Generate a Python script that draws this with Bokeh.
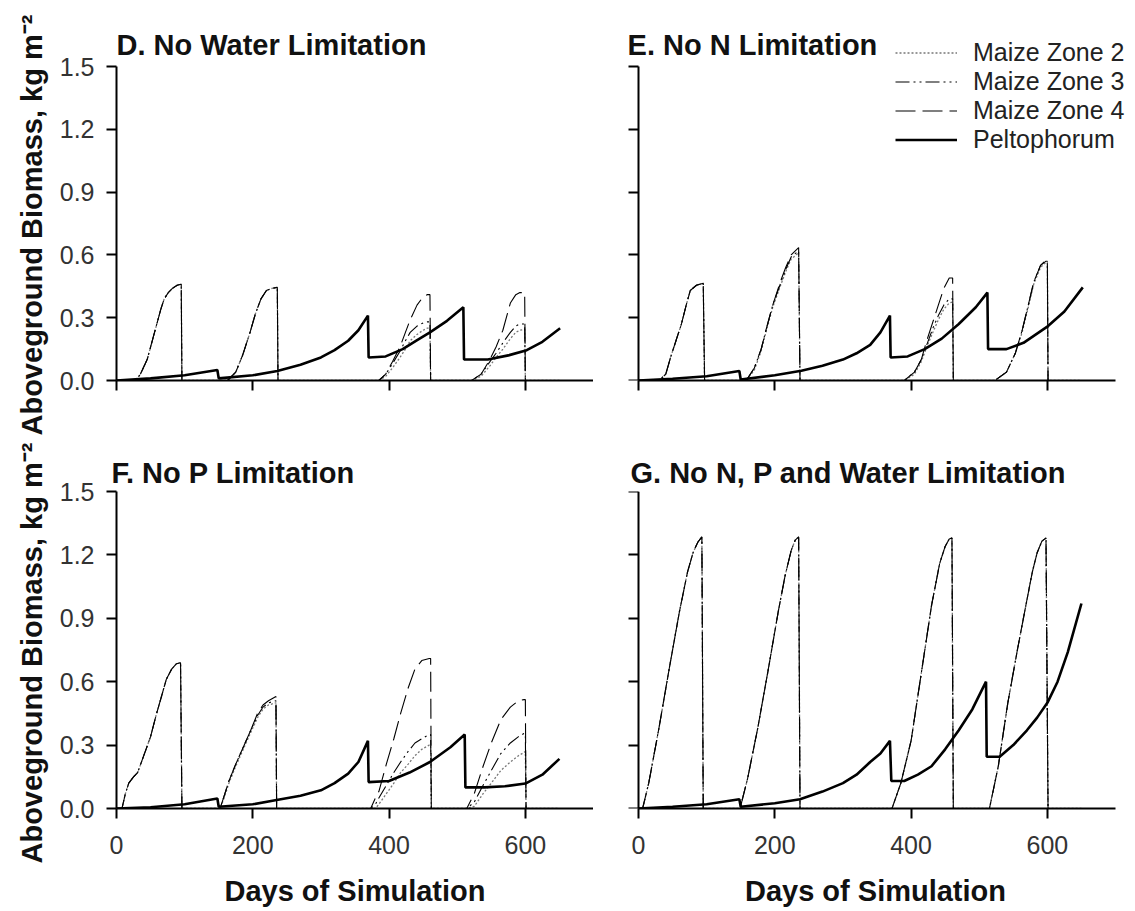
from bokeh.plotting import figure
from bokeh.layouts import column, row
from bokeh.models import (Range1d, FixedTicker, PrintfTickFormatter, Title,
                          Legend, LegendItem, Label)
from bokeh.embed import file_html
from bokeh.resources import INLINE

FONT = "Liberation Sans"

# ---------------- data ----------------
x_ticks = [0, 200, 400, 600]
y_ticks = [0.0, 0.3, 0.6, 0.9, 1.2, 1.5]
legend_labels = ["Maize Zone 2", "Maize Zone 3", "Maize Zone 4", "Peltophorum"]
titles = ["D. No Water Limitation", "E. No N Limitation",
          "F. No P Limitation", "G. No N, P and Water Limitation"]
x_label = "Days of Simulation"
y_label = "Aboveground Biomass, kg m\u207b\u00b2"

# Panel D
D_days = [0, 28, 35, 45, 50, 55, 60, 65, 70, 76, 82, 89, 95, 96,
          163, 175, 185, 196, 204, 212, 220, 228, 236, 237,
          385, 395, 405, 416, 424, 431, 441, 450, 456, 460, 461,
          521, 535, 548, 557, 567, 578, 586, 592, 599, 600, 650]
D_zone4 = [0, 0, 0.03, 0.10, 0.16, 0.22, 0.28, 0.34, 0.39, 0.42, 0.44, 0.455, 0.46, 0,
           0, 0.04, 0.12, 0.23, 0.32, 0.39, 0.43, 0.44, 0.445, 0,
           0, 0.03, 0.09, 0.16, 0.23, 0.29, 0.36, 0.40, 0.41, 0.41, 0,
           0, 0.03, 0.10, 0.16, 0.24, 0.37, 0.41, 0.42, 0.42, 0, 0]
D_zone3 = [0, 0, 0.03, 0.10, 0.16, 0.22, 0.28, 0.34, 0.39, 0.42, 0.44, 0.455, 0.46, 0,
           0, 0.04, 0.12, 0.23, 0.32, 0.39, 0.43, 0.44, 0.445, 0,
           0, 0.03, 0.08, 0.14, 0.19, 0.23, 0.26, 0.275, 0.28, 0.28, 0,
           0, 0.03, 0.09, 0.13, 0.18, 0.23, 0.26, 0.27, 0.27, 0, 0]
D_zone2 = [0, 0, 0.03, 0.10, 0.16, 0.22, 0.28, 0.34, 0.39, 0.42, 0.44, 0.455, 0.46, 0,
           0, 0.04, 0.12, 0.23, 0.32, 0.39, 0.43, 0.44, 0.445, 0,
           0, 0.02, 0.06, 0.11, 0.15, 0.19, 0.22, 0.24, 0.25, 0.25, 0,
           0, 0.02, 0.07, 0.11, 0.15, 0.20, 0.23, 0.24, 0.245, 0, 0]
D_pelt_days = [0, 50, 100, 148, 150, 200, 236, 270, 300, 320, 340, 355, 369, 370,
               395, 420, 440, 460, 485, 509, 510, 545, 575, 602, 625, 651]
D_pelt = [0, 0.01, 0.025, 0.05, 0.01, 0.025, 0.045, 0.075, 0.11, 0.145, 0.19, 0.24, 0.31, 0.11,
          0.115, 0.15, 0.19, 0.23, 0.285, 0.35, 0.10, 0.10, 0.12, 0.145, 0.185, 0.25]

# Panel E
E_days = [0, 30, 40, 47, 55, 63, 70, 76, 85, 95, 97,
          158, 170, 180, 187, 197, 208, 216, 224, 235, 237,
          390, 405, 415, 423, 432, 440, 448, 456, 461, 462,
          523, 540, 553, 563, 572, 580, 590, 598, 600, 601, 650]
E_zone4 = [0, 0, 0.03, 0.11, 0.19, 0.27, 0.36, 0.43, 0.455, 0.465, 0,
           0, 0.06, 0.15, 0.24, 0.36, 0.47, 0.54, 0.60, 0.635, 0,
           0, 0.04, 0.10, 0.19, 0.28, 0.36, 0.44, 0.49, 0.49, 0,
           0, 0.04, 0.13, 0.24, 0.36, 0.47, 0.55, 0.575, 0.575, 0, 0]
E_zone3 = [0, 0, 0.03, 0.11, 0.19, 0.27, 0.36, 0.43, 0.455, 0.465, 0,
           0, 0.06, 0.15, 0.24, 0.36, 0.46, 0.53, 0.59, 0.62, 0,
           0, 0.04, 0.10, 0.17, 0.25, 0.31, 0.36, 0.39, 0.39, 0,
           0, 0.04, 0.13, 0.24, 0.36, 0.47, 0.55, 0.57, 0.57, 0, 0]
E_zone2 = [0, 0, 0.03, 0.11, 0.19, 0.27, 0.36, 0.43, 0.455, 0.465, 0,
           0, 0.05, 0.14, 0.23, 0.35, 0.45, 0.52, 0.58, 0.61, 0,
           0, 0.03, 0.09, 0.16, 0.23, 0.29, 0.34, 0.37, 0.375, 0,
           0, 0.04, 0.13, 0.23, 0.35, 0.46, 0.54, 0.565, 0.565, 0, 0]
E_pelt_days = [0, 50, 100, 148, 150, 200, 239, 270, 300, 320, 340, 355, 369, 370,
               395, 420, 445, 470, 495, 512, 513, 540, 565, 601, 625, 652]
E_pelt = [0, 0.008, 0.02, 0.045, 0.005, 0.025, 0.047, 0.07, 0.10, 0.13, 0.17, 0.23, 0.31, 0.11,
          0.115, 0.15, 0.20, 0.27, 0.35, 0.42, 0.15, 0.15, 0.18, 0.26, 0.33, 0.445]

# Panel F
F_days = [0, 8, 13, 18, 25, 31, 40, 50, 58, 66, 73, 81, 88, 94, 96,
          152, 158, 165, 175, 186, 197, 207, 215, 223, 234, 235,
          373, 380, 385, 396, 407, 417, 428, 438, 448, 459, 461, 462,
          514, 525, 538, 550, 564, 578, 590, 598, 600, 601, 650]
F_zone4 = [0, 0, 0.07, 0.12, 0.15, 0.17, 0.25, 0.34, 0.44, 0.53, 0.61, 0.66, 0.685, 0.69, 0,
           0, 0.06, 0.13, 0.21, 0.29, 0.37, 0.45, 0.49, 0.51, 0.53, 0,
           0, 0.05, 0.08, 0.21, 0.33, 0.45, 0.57, 0.66, 0.70, 0.71, 0.71, 0,
           0, 0.07, 0.20, 0.31, 0.42, 0.48, 0.51, 0.515, 0.515, 0, 0]
F_zone3 = [0, 0, 0.07, 0.12, 0.15, 0.17, 0.25, 0.34, 0.44, 0.53, 0.61, 0.66, 0.685, 0.69, 0,
           0, 0.06, 0.13, 0.21, 0.29, 0.37, 0.44, 0.48, 0.50, 0.51, 0,
           0, 0.02, 0.05, 0.11, 0.17, 0.22, 0.27, 0.31, 0.33, 0.35, 0.35, 0,
           0, 0.03, 0.11, 0.18, 0.26, 0.31, 0.34, 0.355, 0.355, 0, 0]
F_zone2 = [0, 0, 0.07, 0.12, 0.15, 0.17, 0.25, 0.34, 0.44, 0.53, 0.61, 0.66, 0.685, 0.69, 0,
           0, 0.05, 0.12, 0.20, 0.28, 0.36, 0.43, 0.47, 0.49, 0.50, 0,
           0, 0.0, 0.02, 0.07, 0.12, 0.17, 0.21, 0.25, 0.28, 0.30, 0.30, 0,
           0, 0.01, 0.07, 0.12, 0.18, 0.22, 0.25, 0.265, 0.27, 0, 0]
F_pelt_days = [0, 50, 100, 148, 150, 200, 235, 270, 300, 320, 340, 355, 369, 370,
               400, 430, 460, 490, 511, 512, 540, 570, 600, 625, 650]
F_pelt = [0, 0.006, 0.02, 0.047, 0.008, 0.02, 0.04, 0.06, 0.086, 0.12, 0.165, 0.22, 0.32, 0.125,
          0.13, 0.17, 0.22, 0.29, 0.35, 0.10, 0.10, 0.105, 0.118, 0.16, 0.235]

# Panel G (all maize zones coincide)
G_days = [0, 6, 15, 30, 45, 60, 72, 80, 87, 93, 95,
          149, 160, 175, 190, 205, 215, 224, 230, 235, 237,
          372, 385, 400, 415, 430, 442, 450, 456, 460, 462,
          515, 528, 542, 556, 569, 578, 585, 592, 598, 601, 650]
G_maize = [0, 0, 0.12, 0.38, 0.66, 0.93, 1.12, 1.21, 1.26, 1.285, 0,
           0, 0.14, 0.38, 0.65, 0.93, 1.10, 1.22, 1.27, 1.285, 0,
           0, 0.12, 0.32, 0.64, 0.96, 1.16, 1.24, 1.275, 1.28, 0,
           0, 0.20, 0.50, 0.75, 0.97, 1.12, 1.21, 1.265, 1.28, 0, 0]
G_zone2 = G_maize
G_zone3 = G_maize
G_zone4 = G_maize
G_pelt_days = [0, 50, 100, 148, 150, 200, 237, 270, 300, 320, 340, 355, 369, 371,
               390, 410, 430, 450, 470, 490, 510, 511, 530, 550, 570, 585, 600, 615, 630, 650]
G_pelt = [0, 0.008, 0.02, 0.044, 0.008, 0.025, 0.044, 0.08, 0.12, 0.16, 0.22, 0.26, 0.32, 0.13,
          0.13, 0.16, 0.20, 0.28, 0.37, 0.47, 0.60, 0.245, 0.245, 0.30, 0.37, 0.43, 0.50, 0.60, 0.74, 0.97]

# ---------------- geometry ----------------
PX = 477.0 / 700.0          # pixels per day
LEFT_EXT = {"L": 0, "R": 18}    # frame extends this many px left of the y axis
RIGHT_EXT = {"L": 0, "R": 15}   # and this many px right of day 700
TOP_EXT = 42                    # top row: frame extends above 1.5


def panel(title, days, z2, z3, z4, pdays, pelt, *, col, fh_axis, top, bottom,
          left, top_ext, xlabels, ylabels, title_label=None, title_offset=0,
          title_standoff=6, legend=False):
    lext, rext = LEFT_EXT[col], RIGHT_EXT[col]
    fh = fh_axis + top_ext
    p = figure(frame_width=477 + lext + rext, frame_height=fh,
               x_range=Range1d(-lext / PX, 700 + rext / PX),
               y_range=Range1d(0, 1.5 * fh / fh_axis),
               output_backend="svg", toolbar_location=None,
               min_border_left=left, min_border_right=0,
               min_border_top=top, min_border_bottom=bottom)
    p.outline_line_color = None
    p.xgrid.visible = False
    p.ygrid.visible = False
    p.background_fill_color = "white"
    p.border_fill_color = "white"

    r2 = p.line(days, z2, line_color="#777777", line_width=1.3, line_dash="2 2")
    r3 = p.line(days, z3, line_color="black", line_width=1.1, line_dash="14 4 2 4 2 4")
    r4 = p.line(days, z4, line_color="black", line_width=1.1, line_dash="20 7")
    rp = p.line(pdays, pelt, line_color="black", line_width=2.6)

    if title_label is None:
        p.title.text = title
        p.title.align = "left"
        p.title.offset = title_offset
        p.title.standoff = title_standoff
        p.title.text_font = FONT
        p.title.text_font_size = "29px"
        p.title.text_font_style = "bold"
        p.title.text_color = "#111111"
    else:
        p.add_layout(Label(x=title_label, y=1.605, text=title, text_font=FONT,
                           text_font_size="29px", text_font_style="bold",
                           text_color="#111111", text_baseline="alphabetic"))

    for ax in (p.xaxis[0], p.yaxis[0]):
        ax.axis_line_width = 2
        ax.axis_line_color = "black"
        ax.major_tick_line_width = 2
        ax.major_tick_line_color = "black"
        ax.major_tick_out = 10
        ax.major_tick_in = 0
        ax.minor_tick_out = 0
        ax.minor_tick_in = 0
        ax.major_label_text_font = FONT
        ax.major_label_text_font_size = "25px"
        ax.major_label_text_color = "#333333"
    p.yaxis.major_label_standoff = 12
    p.xaxis.major_label_standoff = 17

    p.xaxis.ticker = FixedTicker(ticks=x_ticks, minor_ticks=[])
    p.yaxis.ticker = FixedTicker(ticks=y_ticks, minor_ticks=[])
    p.yaxis.formatter = PrintfTickFormatter(format="%.1f")
    p.xaxis.bounds = (0, 700)
    p.yaxis.bounds = (0, 1.5)
    if lext > 0:
        p.yaxis.fixed_location = 0

    if not xlabels:
        p.xaxis.major_label_overrides = {t: "" for t in x_ticks}
    else:
        p.xaxis.axis_label = x_label
        p.xaxis.axis_label_text_font = FONT
        p.xaxis.axis_label_text_font_size = "29px"
        p.xaxis.axis_label_text_font_style = "bold"
        p.xaxis.axis_label_text_color = "#111111"
        p.xaxis.axis_label_standoff = 18
    if not ylabels:
        p.yaxis.major_label_overrides = {t: "" for t in y_ticks}
    else:
        p.add_layout(Title(text=y_label, align="left",
                           offset=-55, standoff=17, text_font=FONT,
                           text_font_size="29px", text_font_style="bold",
                           text_color="#111111"), "left")

    if legend:
        lg = Legend(items=[LegendItem(label=legend_labels[0], renderers=[r2]),
                           LegendItem(label=legend_labels[1], renderers=[r3]),
                           LegendItem(label=legend_labels[2], renderers=[r4]),
                           LegendItem(label=legend_labels[3], renderers=[rp])],
                    location=(275, 226), orientation="vertical",
                    label_text_font=FONT, label_text_font_size="25px",
                    label_text_color="#222222",
                    glyph_width=62, glyph_height=29, label_height=29,
                    label_standoff=16, spacing=0, padding=0, margin=0,
                    border_line_color=None, background_fill_alpha=0)
        p.add_layout(lg)
    return p


# D/F y axis at x=116, E/G y axis at x=638; top row y 66..380, bottom 491..808
LEFT_BORDER_L = 116 - LEFT_EXT["L"]                       # 116
LEFT_BORDER_R = 638 - LEFT_EXT["R"] - (116 + 477)          # 27

pD = panel(titles[0], D_days, D_zone2, D_zone3, D_zone4, D_pelt_days, D_pelt,
           col="L", fh_axis=314, top=66 - TOP_EXT, bottom=60, left=LEFT_BORDER_L,
           top_ext=TOP_EXT, xlabels=False, ylabels=True, title_label=0)
pE = panel(titles[1], E_days, E_zone2, E_zone3, E_zone4, E_pelt_days, E_pelt,
           col="R", fh_axis=314, top=66 - TOP_EXT, bottom=60, left=LEFT_BORDER_R,
           top_ext=TOP_EXT, xlabels=False, ylabels=False, title_label=-16,
           legend=True)
pF = panel(titles[2], F_days, F_zone2, F_zone3, F_zone4, F_pelt_days, F_pelt,
           col="L", fh_axis=317, top=51, bottom=100, left=LEFT_BORDER_L,
           top_ext=0, xlabels=True, ylabels=True, title_offset=-5)
pG = panel(titles[3], G_days, G_zone2, G_zone3, G_zone4, G_pelt_days, G_pelt,
           col="R", fh_axis=317, top=51, bottom=100, left=LEFT_BORDER_R,
           top_ext=0, xlabels=True, ylabels=False, title_offset=10)

layout = column(row(pD, pE), row(pF, pG))
open("out.html", "w").write(file_html(layout, INLINE))
